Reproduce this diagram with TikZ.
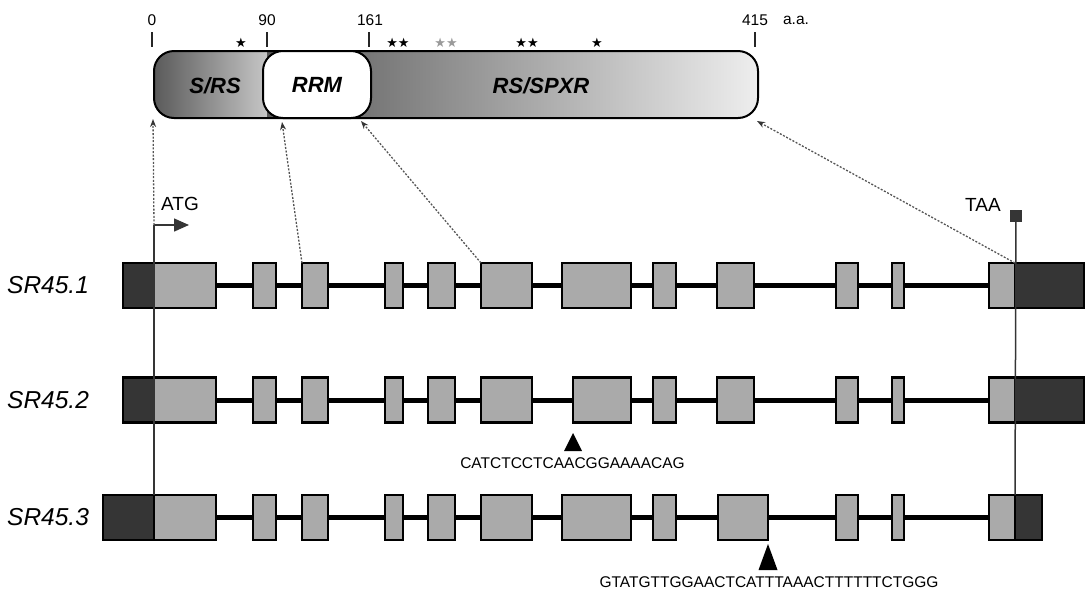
\documentclass[tikz,border=0pt]{standalone}
\usepackage{fontspec}
\setmainfont{Liberation Sans}
\newfontfamily\symfont{DejaVu Sans}
\usetikzlibrary{arrows.meta}
\definecolor{exgray}{HTML}{AAAAAA}
\definecolor{utrdark}{HTML}{353535}
\definecolor{lnk}{HTML}{555555}
\definecolor{shA}{HTML}{5A5A5A}
\definecolor{shB}{HTML}{C6C6C6}
\definecolor{shC}{HTML}{585858}
\definecolor{shD}{HTML}{EEEEEE}
\definecolor{stargray}{HTML}{9A9A9A}
\newcommand\exbox[5]{\pgfmathsetmacro\exw{#3-#2}\node[#5, minimum width=\exw, anchor=west] (#1) at (#2,#4) {};}
\begin{document}
\begin{tikzpicture}[x=1pt,y=-1pt,
  exon/.style={draw=black, line width=2.4pt, fill=exgray, inner sep=0pt, outer sep=0pt, minimum height=45},
  utr/.style={exon, fill=utrdark},
  intron/.style={line width=5pt, black},
  tickline/.style={line width=1.6pt, black!85},
  ticklab/.style={font=\fontsize{15.5}{17}\selectfont, inner sep=0pt},
  star/.style={font=\symfont\fontsize{13}{14}\selectfont, inner sep=0pt},
  domlab/.style={font=\fontsize{22}{24}\selectfont\bfseries\itshape, inner sep=0pt},
  rowlab/.style={font=\fontsize{24.5}{27}\selectfont\itshape, inner sep=0pt, anchor=west},
  seqlab/.style={font=\fontsize{15.5}{18}\selectfont, inner sep=0pt},
  codonline/.style={line width=1.5pt, utrdark},
  dotarrow/.style={lnk, line width=1.3pt, dash pattern=on 2pt off 1.6pt, -{Stealth[length=8pt,width=6pt,color=utrdark,fill=utrdark]}},
]
\useasboundingbox (0,0) rectangle (1086,590);

% ---- protein bar ----
\begin{scope}
  \clip[rounded corners=20pt] (154,51) rectangle (758,118);
  \shade[left color=shA, right color=shB] (154,51) rectangle (267,118);
  \shade[left color=shC, right color=shD] (267,51) rectangle (758,118);
\end{scope}
\node[draw=black, line width=2pt, rounded corners=20pt, minimum width=604, minimum height=67, inner sep=0pt, outer sep=0pt, anchor=north west] (bar) at (154,51) {};
\node[draw=black, line width=2pt, fill=white, rounded corners=20pt, minimum width=108, minimum height=67, inner sep=0pt, outer sep=0pt,
  font=\fontsize{22}{24}\selectfont\bfseries\itshape] (rrm) at (317,84.5) {RRM};
\node[domlab] (srs) at (215,86) {S/RS};
\node[domlab] (rsspxr) at (541,86) {RS/SPXR};

% ticks
\draw[tickline] (152,32) -- (152,47);
\draw[tickline] (267,32) -- (267,47);
\draw[tickline] (369,32) -- (369,47);
\draw[tickline] (755,32) -- (755,47);
\node[ticklab] (t0) at (152,20) {0};
\node[ticklab] (t90) at (267,20) {90};
\node[ticklab] (t161) at (370,20) {161};
\node[ticklab] (t415) at (755,20) {415};
\node[ticklab] (taa) at (796,20) {a.a.};

% stars
\node[star] (s1) at (241,43) {★};
\node[star] (s2) at (398,43) {★★};
\node[star, stargray] (s3) at (446,43) {★★};
\node[star] (s4) at (527,43) {★★};
\node[star] (s5) at (597,43) {★};

% ---- codon markers ----
\coordinate (atgtop) at (154,225);
\coordinate (atgend) at (189,225);
\node[fill=utrdark, minimum size=12, inner sep=0pt, outer sep=0pt] (stop) at (1016,216) {};
\node[font=\fontsize{19}{21}\selectfont, inner sep=0pt] (atglab) at (180,204) {ATG};
\node[font=\fontsize{19}{21}\selectfont, inner sep=0pt] (taalab) at (983,205) {TAA};

% ---- rows ----
\draw[intron] (154,285.5) -- (1015,285.5);
\draw[intron] (154,400) -- (1015,400);
\draw[intron] (154,517.5) -- (1015,517.5);

\foreach \n/\a/\b in {1/154/216,2/253/276,3/302/328,4/385/403,5/428/455,6/481/532,7/562/631,8/653/676,9/717/754,10/836/858,11/892/904,12/989/1015}{
  \exbox{r1e\n}{\a}{\b}{285.5}{exon}
}
\exbox{r1a}{123}{154}{285.5}{utr}
\exbox{r1z}{1015}{1084}{285.5}{utr}

\foreach \n/\a/\b in {1/154/216,2/253/276,3/302/328,4/385/403,5/428/455,6/481/532,7/573/631,8/653/676,9/717/754,10/836/858,11/892/904,12/989/1015}{
  \exbox{r2e\n}{\a}{\b}{400}{exon}
}
\exbox{r2a}{123}{154}{400}{utr}
\exbox{r2z}{1015}{1084}{400}{utr}

\foreach \n/\a/\b in {1/154/216,2/253/276,3/302/328,4/385/403,5/428/455,6/481/532,7/562/631,8/653/676,9/718/768,10/836/858,11/892/904,12/989/1015}{
  \exbox{r3e\n}{\a}{\b}{517.5}{exon}
}
\exbox{r3a}{103}{154}{517.5}{utr}
\exbox{r3z}{1015}{1042}{517.5}{utr}

\draw[codonline] (atgtop) -- (r3a.north east);
\draw[codonline] (stop) -- (r3z.north west);
\draw[codonline, -{Triangle[length=15pt,width=13pt]}] (atgtop) -- (atgend);

% row labels
\node[rowlab] (l1) at (7,285) {SR45.1};
\node[rowlab] (l2) at (7,400) {SR45.2};
\node[rowlab] (l3) at (7,517) {SR45.3};

% splice markers
\fill[black] (573,433) -- (582,451) -- (564,451) -- cycle;
\node[seqlab] (seq2) at (572.5,463) {CATCTCCTCAACGGAAAACAG};
\fill[black] (768,544) -- (777.5,570) -- (758.5,570) -- cycle;
\node[seqlab] (seq3) at (769,582) {GTATGTTGGAACTCATTTAAACTTTTTTCTGGG};

% ---- dotted links ----
\coordinate (p0) at (153,119);
\coordinate (p90) at (282,122);
\coordinate (p161) at (361,121);
\coordinate (p415) at (757,121);
\draw[dotarrow] (atgtop) -- (p0);
\draw[dotarrow] (r1e3.north west) -- (p90);
\draw[dotarrow] (r1e6.north west) -- (p161);
\draw[dotarrow] (r1z.north west) -- (p415);
\end{tikzpicture}
\end{document}
